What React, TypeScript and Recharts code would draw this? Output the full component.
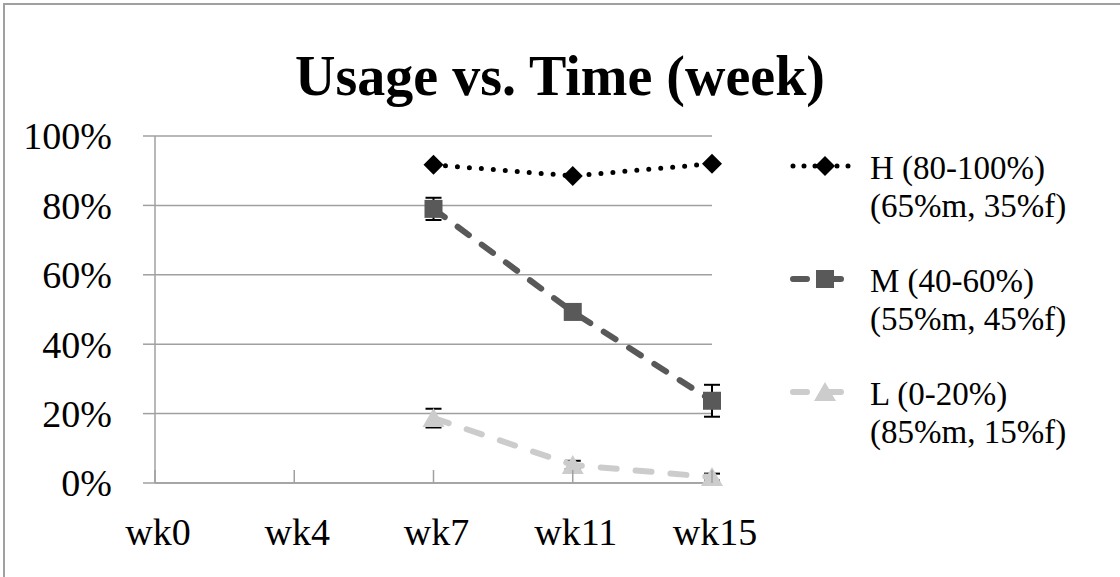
import React from 'react';
import { LineChart, Line, XAxis, YAxis, CartesianGrid, ErrorBar, Legend } from 'recharts';

const weeks = ['wk0', 'wk4', 'wk7', 'wk11', 'wk15'];
const highUsage = [null, null, 0.917, 0.885, 0.92];
const mediumUsage = [null, null, 0.79, 0.493, 0.237];
const lowUsage = [null, null, 0.187, 0.052, 0.017];
const mediumErr = [null, null, 0.032, 0.015, 0.046];
const lowErr = [null, null, 0.027, 0.012, 0.01];
const yTicks = [0, 0.2, 0.4, 0.6, 0.8, 1];
const seriesNames = ['H (80-100%)', 'M (40-60%)', 'L (0-20%)'];
const seriesSplits = ['(65%m, 35%f)', '(55%m, 45%f)', '(85%m, 15%f)'];

const FONT = '"Liberation Serif", "Times New Roman", serif';
const GRID = '#a0a0a0';
const COLORS = ['#000000', '#595959', '#cccccc'];
const DASHES = ['0 12', '14 16', '16 19'];

const chartData = weeks.map((week, i) => ({
  week,
  high: highUsage[i],
  medium: mediumUsage[i],
  low: lowUsage[i],
  mediumErr: mediumErr[i],
  lowErr: lowErr[i],
}));

const diamond = (cx: number, cy: number, color: string, r = 10) => (
  <polygon points={`${cx},${cy - r} ${cx + r},${cy} ${cx},${cy + r} ${cx - r},${cy}`} fill={color} />
);
const square = (cx: number, cy: number, color: string, r = 9) => (
  <rect x={cx - r} y={cy - r} width={r * 2} height={r * 2} fill={color} />
);
const triangle = (cx: number, cy: number, color: string) => (
  <polygon points={`${cx},${cy - 10} ${cx + 11},${cy + 9} ${cx - 11},${cy + 9}`} fill={color} />
);
const MARKERS = [diamond, square, triangle];

const makeDot = (idx: number) => (props: any) => {
  const { cx, cy, value, index } = props;
  if (cx == null || cy == null || value == null) return <g key={`e-${idx}-${index}`} />;
  return <g key={`d-${idx}-${index}`}>{MARKERS[idx](cx, cy, COLORS[idx])}</g>;
};

const XTick = (props: any) => {
  const { x, y, payload } = props;
  return (
    <g>
      <line x1={x} y1={y} x2={x} y2={y - 13} stroke={GRID} strokeWidth={1.5} />
      <text x={x + 3} y={y + 49} textAnchor="middle" dominantBaseline="central" fontFamily={FONT} fontSize={38} fill="#000">
        {payload.value}
      </text>
    </g>
  );
};

const renderLegend = () => (
  <svg width={340} height={330}>
    {seriesNames.map((name, i) => {
      const cy = 26 + i * 113;
      return (
        <g key={name}>
          <line x1={13} y1={cy} x2={77} y2={cy} stroke={COLORS[i]} strokeWidth={i === 0 ? 5 : 6}
            strokeDasharray={i === 0 ? '0 11' : '14 20'} strokeLinecap="round" />
          {MARKERS[i](45, cy, COLORS[i])}
          <text x={90} y={cy + 2} dominantBaseline="central" fontFamily={FONT} fontSize={33} fill="#000">{name}</text>
          <text x={90} y={cy + 40} dominantBaseline="central" fontFamily={FONT} fontSize={33} fill="#000">{seriesSplits[i]}</text>
        </g>
      );
    })}
  </svg>
);

export default function App() {
  return (
    <div style={{ position: 'absolute', left: 0, top: 0, width: 1120, height: 577, overflow: 'hidden', background: '#fff' }}>
      <div style={{ position: 'absolute', left: 3, top: 3, width: 1200, height: 700, borderLeft: `2px solid ${GRID}`, borderTop: `2px solid ${GRID}` }} />
      <div style={{ position: 'absolute', left: 0, top: 48, width: 1120, textAlign: 'center', fontFamily: FONT, fontWeight: 'bold', fontSize: 56, lineHeight: 1 }}>
        Usage vs. Time (week)
      </div>
      <div style={{ position: 'absolute', left: 0, top: 0 }}>
        <LineChart width={1120} height={577} data={chartData} margin={{ top: 136, right: 408, bottom: 34, left: 0 }}>
          <CartesianGrid horizontal vertical={false} stroke={GRID} strokeWidth={1.5} />
          <XAxis dataKey="week" tick={<XTick />} tickLine={false} tickSize={0} tickMargin={0} height={60}
            axisLine={{ stroke: GRID, strokeWidth: 1.5 }} interval={0} />
          <YAxis domain={[0, 1]} ticks={yTicks} width={155} tickSize={12} tickMargin={31}
            tickFormatter={(v: number) => `${Math.round(v * 100)}%`}
            tick={{ fontFamily: FONT, fontSize: 38, fill: '#000' }}
            tickLine={{ stroke: GRID, strokeWidth: 1.5 }} axisLine={{ stroke: GRID, strokeWidth: 1.5 }} />
          <Legend layout="vertical" align="center" verticalAlign="middle" content={renderLegend}
            wrapperStyle={{ left: 780, top: 140, width: 340, height: 330 }} />
          <Line dataKey="high" stroke={COLORS[0]} strokeWidth={5} strokeDasharray={DASHES[0]} strokeLinecap="round"
            dot={makeDot(0)} activeDot={false} isAnimationActive={false} />
          <Line dataKey="medium" stroke={COLORS[1]} strokeWidth={6} strokeDasharray={DASHES[1]} strokeLinecap="round"
            dot={makeDot(1)} activeDot={false} isAnimationActive={false}>
            <ErrorBar dataKey="mediumErr" width={8} stroke="#000" strokeWidth={2} direction="y" />
          </Line>
          <Line dataKey="low" stroke={COLORS[2]} strokeWidth={6} strokeDasharray={DASHES[2]} strokeLinecap="round"
            dot={makeDot(2)} activeDot={false} isAnimationActive={false}>
            <ErrorBar dataKey="lowErr" width={8} stroke="#000" strokeWidth={2} direction="y" />
          </Line>
        </LineChart>
      </div>
    </div>
  );
}
